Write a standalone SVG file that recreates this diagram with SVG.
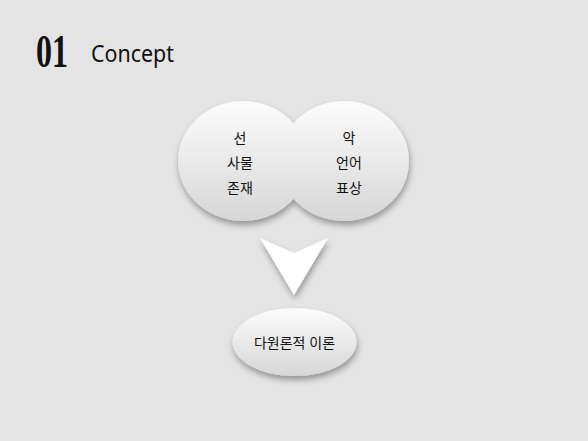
<svg xmlns="http://www.w3.org/2000/svg" width="588" height="441" viewBox="0 0 588 441">
  <style>
    .ko { font-family: "Liberation Sans", "Noto Sans CJK KR", sans-serif; font-size: 14px; fill: #111; text-anchor: middle; dominant-baseline: central; }
  </style>
  <defs>
    <linearGradient id="g1" gradientUnits="userSpaceOnUse" x1="0" y1="100" x2="0" y2="222">
      <stop offset="0" stop-color="#fcfcfc"/>
      <stop offset="1" stop-color="#d6d6d6"/>
    </linearGradient>
    <linearGradient id="g2" gradientUnits="userSpaceOnUse" x1="0" y1="308" x2="0" y2="376">
      <stop offset="0" stop-color="#fcfcfc"/>
      <stop offset="1" stop-color="#d6d6d6"/>
    </linearGradient>
    <filter id="sh" x="-20%" y="-20%" width="140%" height="150%">
      <feDropShadow dx="1" dy="4" stdDeviation="3" flood-color="#000" flood-opacity="0.35"/>
    </filter>
  </defs>
  <rect width="588" height="441" fill="#e4e4e4"/>
  <g id="title">
    <text x="36" y="67" font-family="Liberation Serif, serif" font-weight="bold" font-size="46" textLength="32" lengthAdjust="spacingAndGlyphs" fill="#111">01</text>
    <text x="91" y="62" font-family="Noto Sans, sans-serif" font-size="24" textLength="83" lengthAdjust="spacingAndGlyphs" fill="#111">Concept</text>
  </g>
  <g id="node-top">
    <path d="M 293.5 123.2 A 65 60 0 1 1 293.5 198.8 A 65 60 0 1 1 293.5 123.2 Z" fill="url(#g1)" filter="url(#sh)"/>
    <text class="ko" x="240" y="138">선</text>
    <text class="ko" x="240" y="163">사물</text>
    <text class="ko" x="240" y="188">존재</text>
    <text class="ko" x="349" y="138">악</text>
    <text class="ko" x="349" y="163">언어</text>
    <text class="ko" x="349" y="188">표상</text>
  </g>
  <g id="connectors">
    <polygon points="260,238 294,253 328,238 294,295" fill="#ffffff" filter="url(#sh)"/>
  </g>
  <g id="node-bottom">
    <ellipse cx="294.5" cy="342" rx="62" ry="34" fill="url(#g2)" filter="url(#sh)"/>
    <text class="ko" x="294.5" y="343">다원론적 이론</text>
  </g>
</svg>
